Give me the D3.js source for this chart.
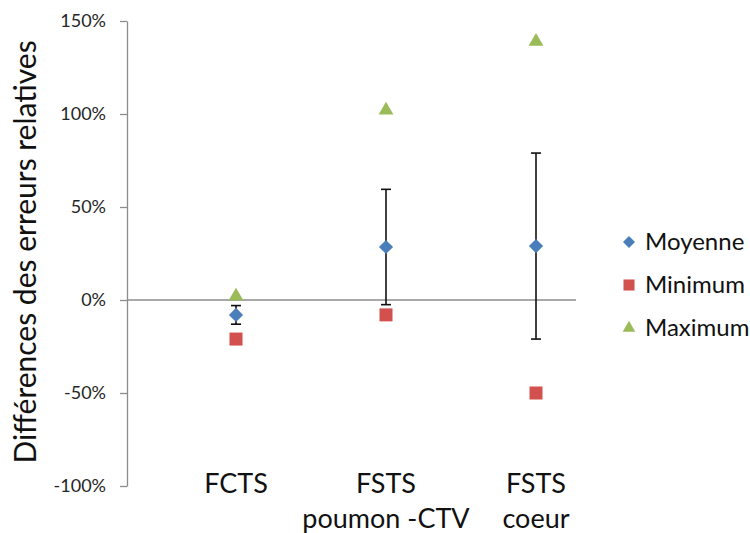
<!DOCTYPE html>
<html lang="fr">

<head>
    <meta charset="UTF-8">
    <title>Différences des erreurs relatives</title>
    <style>
        body {
            margin: 0;
            background: #fff;
        }

        svg text {
            font-family: Lato, "Liberation Sans", sans-serif;
        }
    </style>
</head>

<body>
    <svg id="chart"></svg>
    <script src="https://cdnjs.cloudflare.com/ajax/libs/d3/7.9.0/d3.min.js"></script>
    <script>
        // Data (percent)
        const categories = [["FCTS"], ["FSTS", "poumon -CTV"], ["FSTS", "coeur"]];
        const moyenne = [-8, 28.5, 29];
        const ecart = [5, 31, 50];
        const minimum = [-21, -8, -50];
        const maximum = [2, 102, 139];
        const yTicks = [-100, -50, 0, 50, 100, 150];
        const seriesNames = ["Moyenne", "Minimum", "Maximum"];

        const w = 750;
        const h = 533;

        const svg = d3.select("#chart")
            .attr("width", w)
            .attr("height", h);

        const plotLeft = 127;
        const plotRight = 576;

        const y = d3.scaleLinear()
            .domain([-100, 150])
            .range([486, 21]);

        const x = d3.scalePoint()
            .domain(d3.range(categories.length))
            .range([236, 536]);

        const colors = {
            Moyenne: "#4a7ebb",
            Minimum: "#d2504d",
            Maximum: "#9bbb59"
        };

        // Y axis
        const yAxis = svg.append("g")
            .attr("transform", `translate(${plotLeft},0)`)
            .call(d3.axisLeft(y)
                .tickValues(yTicks)
                .tickFormat(d => d + "%")
                .tickSize(7)
                .tickSizeOuter(0)
                .tickPadding(14));

        yAxis.select(".domain").attr("stroke", "#8c8c8c").attr("stroke-width", 1.3);
        yAxis.selectAll(".tick line").attr("stroke", "#8c8c8c").attr("stroke-width", 1.3);
        yAxis.selectAll(".tick text")
            .attr("font-size", 18)
            .attr("fill", "#262626")
            .attr("font-family", "Lato, sans-serif");

        // Zero line
        svg.append("line")
            .attr("x1", plotLeft)
            .attr("x2", plotRight)
            .attr("y1", y(0))
            .attr("y2", y(0))
            .attr("stroke", "#8c8c8c")
            .attr("stroke-width", 1.3);

        // Y axis title
        svg.append("text")
            .attr("transform", `translate(36,252) rotate(-90)`)
            .attr("text-anchor", "middle")
            .attr("font-size", 30)
            .attr("fill", "#111")
            .text("Différences des erreurs relatives");

        // Category labels
        const catLabels = svg.append("g")
            .selectAll("text")
            .data(categories)
            .enter()
            .append("text")
            .attr("text-anchor", "middle")
            .attr("font-size", 27)
            .attr("fill", "#111");

        catLabels.selectAll("tspan")
            .data((d, i) => d.map(t => ({ t, i })))
            .enter()
            .append("tspan")
            .attr("x", d => x(d.i))
            .attr("y", (d, j) => 493 + j * 35)
            .text(d => d.t);

        // Error bars on the mean
        const capW = 5;
        const bars = svg.append("g")
            .selectAll("g")
            .data(moyenne)
            .enter()
            .append("g")
            .attr("stroke", "#111")
            .attr("stroke-width", 1.6);

        bars.append("line")
            .attr("x1", (d, i) => x(i))
            .attr("x2", (d, i) => x(i))
            .attr("y1", (d, i) => y(d + ecart[i]))
            .attr("y2", (d, i) => y(d - ecart[i]));

        bars.append("line")
            .attr("x1", (d, i) => x(i) - capW)
            .attr("x2", (d, i) => x(i) + capW)
            .attr("y1", (d, i) => y(d + ecart[i]))
            .attr("y2", (d, i) => y(d + ecart[i]));

        bars.append("line")
            .attr("x1", (d, i) => x(i) - capW)
            .attr("x2", (d, i) => x(i) + capW)
            .attr("y1", (d, i) => y(d - ecart[i]))
            .attr("y2", (d, i) => y(d - ecart[i]));

        // Marker shapes
        const shapes = {
            Moyenne: { path: d3.symbol(d3.symbolSquare, 100)(), rotate: 45 },
            Minimum: { path: d3.symbol(d3.symbolSquare, 169)(), rotate: 0 },
            Maximum: { path: d3.symbol(d3.symbolTriangle, 95)(), rotate: 0 }
        };

        const seriesData = { Moyenne: moyenne, Minimum: minimum, Maximum: maximum };

        seriesNames.forEach(name => {
            svg.append("g")
                .selectAll("path")
                .data(seriesData[name])
                .enter()
                .append("path")
                .attr("d", shapes[name].path)
                .attr("transform", (d, i) => `translate(${x(i)},${y(d)}) rotate(${shapes[name].rotate})`)
                .attr("fill", colors[name]);
        });

        // Legend
        const legend = svg.append("g")
            .selectAll("g")
            .data(seriesNames)
            .enter()
            .append("g")
            .attr("transform", (d, i) => `translate(629,${242 + i * 43})`);

        legend.append("path")
            .attr("d", d => shapes[d].path)
            .attr("transform", d => `rotate(${shapes[d].rotate}) scale(0.85)`)
            .attr("fill", d => colors[d]);

        legend.append("text")
            .attr("x", 16)
            .attr("y", 8)
            .attr("font-size", 24)
            .attr("fill", "#111")
            .text(d => d);
    </script>
</body>

</html>
